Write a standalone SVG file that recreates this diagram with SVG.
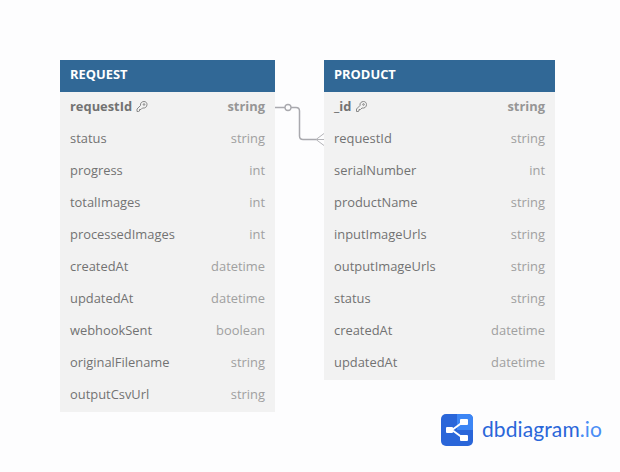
<svg xmlns="http://www.w3.org/2000/svg" width="620" height="472" viewBox="0 0 620 472">
<defs>
<style>
text{font-family:"Open Sans","Noto Sans",sans-serif;font-size:12.900px}
.body{fill:#f2f2f2}
.head{fill:#316896}
.title{fill:#fff;font-weight:700}
.n{fill:#727272}
.t{fill:#a0a0a0;text-anchor:end}
.pk{font-weight:700}
.pk.t{fill:#969696}
.conn{fill:none;stroke:#a9a9ae;stroke-width:1.500}
.key{fill:none;stroke:#7c7c7c;stroke-width:.9}
</style>
<g id="key"><path class="key" d="M1.500 10.500V8L5 4.500C4.500 2 6.500 .5 8.500 .5C10.500 .5 11.500 2 11.500 3.500C11.500 6 9.500 7.500 7 7L5.500 8.500H4V10L3 10.500Z"/><circle cx="8.500" cy="3.500" r=".8" class="key"/></g>
</defs>
<rect width="620" height="472" fill="#fdfdfe"/>
<g id="connectors">
<path class="conn" d="M275 107.500H296Q299.500 107.500 299.500 111V136Q299.500 139.500 303 139.500H316"/>
<circle cx="288" cy="107.500" r="3" fill="#fdfdfe" stroke="#a9a9ae" stroke-width="1.300"/>
<path fill="none" stroke="#b4b4b8" stroke-width="1" d="M324 133.500L316 139.500L324 145.500M316 139.500H324"/>
</g>
<g id="REQUEST">
<rect class="body" x="60" y="60" width="215" height="352"/>
<rect class="head" x="60" y="60" width="215" height="32"/>
<text class="title" x="70" y="79">REQUEST</text>
<text class="n pk" x="70" y="111">requestId</text><use href="#key" x="135.500" y="101"/><text class="t pk" x="265" y="111">string</text>
<text class="n" x="70" y="143">status</text><text class="t" x="265" y="143">string</text>
<text class="n" x="70" y="175">progress</text><text class="t" x="265" y="175">int</text>
<text class="n" x="70" y="207">totalImages</text><text class="t" x="265" y="207">int</text>
<text class="n" x="70" y="239">processedImages</text><text class="t" x="265" y="239">int</text>
<text class="n" x="70" y="271">createdAt</text><text class="t" x="265" y="271">datetime</text>
<text class="n" x="70" y="303">updatedAt</text><text class="t" x="265" y="303">datetime</text>
<text class="n" x="70" y="335">webhookSent</text><text class="t" x="265" y="335">boolean</text>
<text class="n" x="70" y="367">originalFilename</text><text class="t" x="265" y="367">string</text>
<text class="n" x="70" y="399">outputCsvUrl</text><text class="t" x="265" y="399">string</text>
</g>
<g id="PRODUCT">
<rect class="body" x="324" y="60" width="231" height="320"/>
<rect class="head" x="324" y="60" width="231" height="32"/>
<text class="title" x="334" y="79">PRODUCT</text>
<text class="n pk" x="334" y="111">_id</text><use href="#key" x="355" y="101"/><text class="t pk" x="545" y="111">string</text>
<text class="n" x="334" y="143">requestId</text><text class="t" x="545" y="143">string</text>
<text class="n" x="334" y="175">serialNumber</text><text class="t" x="545" y="175">int</text>
<text class="n" x="334" y="207">productName</text><text class="t" x="545" y="207">string</text>
<text class="n" x="334" y="239">inputImageUrls</text><text class="t" x="545" y="239">string</text>
<text class="n" x="334" y="271">outputImageUrls</text><text class="t" x="545" y="271">string</text>
<text class="n" x="334" y="303">status</text><text class="t" x="545" y="303">string</text>
<text class="n" x="334" y="335">createdAt</text><text class="t" x="545" y="335">datetime</text>
<text class="n" x="334" y="367">updatedAt</text><text class="t" x="545" y="367">datetime</text>
</g>
<g id="logo">
<rect x="441" y="414" width="32" height="32" rx="5" fill="#2a66d9"/>
<path d="M457 414H468Q473 414 473 419V430H457Z" fill="#3d86f5"/>
<path d="M452 430L463 422M452 430L463 438" stroke="#fff" stroke-width="2"/>
<rect x="446" y="427" width="7" height="6" rx="1" fill="#fff"/>
<rect x="460" y="419" width="8" height="6" rx="1" fill="#fff"/>
<rect x="460" y="435" width="8" height="6" rx="1" fill="#fff"/>
<text x="482" y="437" style="font-family:Lato,'Open Sans',sans-serif;font-size:21px;letter-spacing:.1px" fill="#2a66d9">dbdiagram<tspan fill="#4a8ef5">.io</tspan></text>
</g>
</svg>
